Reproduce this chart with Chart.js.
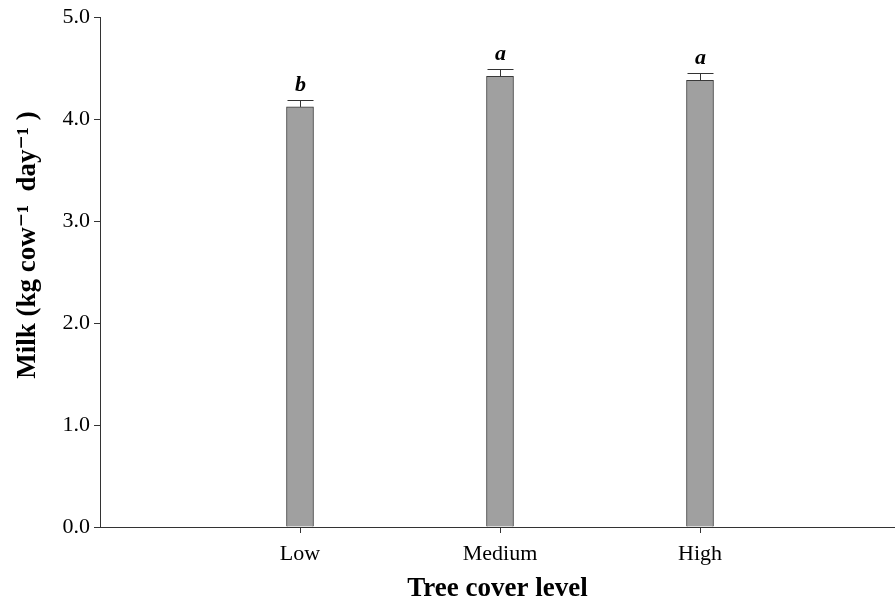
<!DOCTYPE html>
<html>
<head>
<meta charset="utf-8">
<script src="https://cdn.jsdelivr.net/npm/chart.js@4/dist/chart.umd.min.js"></script>
<style>
  html, body { margin: 0; padding: 0; background: #fff; }
  #wrap { width: 895px; height: 603px; }
</style>
</head>
<body>
<div id="wrap"><canvas id="milkChart"></canvas></div>
<script>
// data
const categories = ['Low', 'Medium', 'High'];
const positions = [1, 2, 3];
const milk = [4.12, 4.42, 4.38];
const milkErr = [0.07, 0.07, 0.07];
const letters = ['b', 'a', 'a'];
const yTicks = [0, 1, 2, 3, 4, 5];

const serif = '"Liberation Serif", "DejaVu Serif", serif';

// error bars + significance letters
const errorBars = {
    id: 'errorBars',
    afterDatasetsDraw(chart) {
        const ctx = chart.ctx;
        const x = chart.scales.x, y = chart.scales.y;
        ctx.save();
        ctx.strokeStyle = '#333';
        ctx.lineWidth = 1;
        positions.forEach(function(p, i) {
            const px = Math.round(x.getPixelForValue(p)) + 0.5;
            const top = y.getPixelForValue(milk[i] + milkErr[i]);
            const base = y.getPixelForValue(milk[i]);
            ctx.beginPath();
            ctx.moveTo(px, base);
            ctx.lineTo(px, Math.round(top) + 0.5);
            ctx.moveTo(px - 13, Math.round(top) + 0.5);
            ctx.lineTo(px + 13, Math.round(top) + 0.5);
            ctx.stroke();
            ctx.fillStyle = '#000';
            ctx.font = 'italic bold 22px ' + serif;
            ctx.textAlign = 'center';
            ctx.textBaseline = 'alphabetic';
            ctx.fillText(letters[i], px, top - 9);
        });
        ctx.restore();
    }
};

const ctx = document.getElementById('milkChart').getContext('2d');
new Chart(ctx, {
    type: 'bar',
    data: {
        datasets: [{
            data: positions.map((p, i) => ({ x: p, y: milk[i] })),
            backgroundColor: '#a0a0a0',
            borderColor: '#3a3a3a',
            borderWidth: 1,
            barThickness: 27
        }]
    },
    options: {
        responsive: true,
        maintainAspectRatio: false,
        animation: false,
        layout: { padding: { top: 17, right: 0, left: 0, bottom: 0 } },
        plugins: {
            legend: { display: false },
            tooltip: { enabled: false }
        },
        scales: {
            x: {
                type: 'linear',
                offset: false,
                min: 0,
                max: 3.975,
                afterBuildTicks: function(scale) {
                    scale.ticks = positions.map(v => ({ value: v }));
                },
                afterFit: function(scale) { scale.height = 76; },
                grid: { offset: false, drawOnChartArea: false, drawTicks: true, tickLength: 6, color: '#333' },
                border: { display: true, color: '#333', width: 1 },
                ticks: {
                    color: '#000',
                    font: { family: serif, size: 22 },
                    padding: 8,
                    maxRotation: 0,
                    callback: function(v) { return categories[positions.indexOf(v)] || ''; }
                },
                title: {
                    display: true,
                    text: 'Tree cover level',
                    color: '#000',
                    font: { family: serif, size: 27, weight: 'bold', lineHeight: 1 },
                    padding: { top: 0, bottom: 0 }
                }
            },
            y: {
                min: 0,
                max: 5,
                afterBuildTicks: function(scale) {
                    scale.ticks = yTicks.map(v => ({ value: v }));
                },
                afterFit: function(scale) { scale.width = 100; },
                grid: { drawOnChartArea: false, drawTicks: true, tickLength: 6, color: '#333' },
                border: { display: true, color: '#333', width: 1 },
                ticks: {
                    color: '#000',
                    font: { family: serif, size: 22 },
                    padding: 4,
                    callback: function(v) { return v.toFixed(1); }
                },
                title: {
                    display: true,
                    text: '        Milk (kg cow\u207B\u00B9  day\u207B\u00B9 )',
                    color: '#000',
                    font: { family: serif, size: 27, weight: 'bold' },
                    padding: { top: 12, bottom: 4 }
                }
            }
        }
    },
    plugins: [errorBars]
});
</script>
</body>
</html>
